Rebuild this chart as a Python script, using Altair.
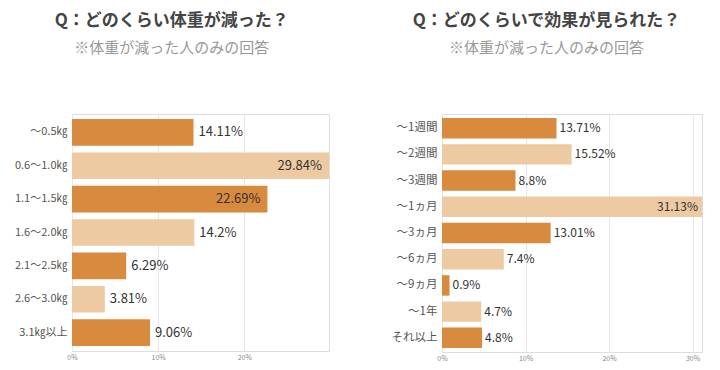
import altair as alt
import pandas as pd

FONT = "Noto Sans CJK JP"
DARK = "#D88A3F"
LIGHT = "#EDCAA1"

left_title = "Q：どのくらい体重が減った？"
right_title = "Q：どのくらいで効果が見られた？"
subtitle = "※体重が減った人のみの回答"

left_cats = ["～0.5㎏", "0.6～1.0㎏", "1.1～1.5㎏", "1.6～2.0㎏", "2.1～2.5㎏", "2.6～3.0㎏", "3.1㎏以上"]
left_vals = [14.11, 29.84, 22.69, 14.2, 6.29, 3.81, 9.06]
left_ticks = [0, 10, 20]

right_cats = ["～1週間", "～2週間", "～3週間", "～1ヵ月", "～3ヵ月", "～6ヵ月", "～9ヵ月", "～1年", "それ以上"]
right_vals = [13.71, 15.52, 8.8, 31.13, 13.01, 7.4, 0.9, 4.7, 4.8]
right_ticks = [0, 10, 20, 30]


def panel(cats, vals, title, ticks, w, h, pi, label_size, text_size, dx_out, dx_in):
    df = pd.DataFrame({
        "cat": cats,
        "v": vals,
        "shade": ["dark" if i % 2 == 0 else "light" for i in range(len(cats))],
    })
    y = alt.Y("cat:N", sort=cats,
              scale=alt.Scale(paddingInner=pi, paddingOuter=0.15),
              axis=alt.Axis(title=None, domain=False, ticks=False, grid=False,
                            labelPadding=5, labelFontSize=label_size,
                            labelColor="#555", labelFont=FONT, labelLimit=200))
    x = alt.X("v:Q",
              scale=alt.Scale(domain=[0, max(vals)], nice=False, zero=True),
              axis=alt.Axis(title=None, values=ticks, labelExpr="datum.value + '%'",
                            domain=False, ticks=False, grid=True, gridColor="#e6e6e6",
                            labelFontSize=7, labelColor="#888", labelPadding=2,
                            labelFlush=False, labelFont=FONT))
    base = alt.Chart(df)
    bars = base.mark_bar().encode(
        x=x, y=y,
        color=alt.Color("shade:N", scale=alt.Scale(domain=["dark", "light"], range=[DARK, LIGHT]), legend=None),
    )
    t_out = base.transform_filter("datum.v < 20").transform_calculate(
        lbl="datum.v + '%'"
    ).mark_text(align="left", baseline="middle", dx=dx_out, fontSize=text_size,
                color="#333", font=FONT).encode(x="v:Q", y=alt.Y("cat:N", sort=cats), text="lbl:N")
    t_in = base.transform_filter("datum.v >= 20").transform_calculate(
        lbl="datum.v + '%'"
    ).mark_text(align="right", baseline="middle", dx=-dx_in, fontSize=text_size,
                color="#333", font=FONT).encode(x="v:Q", y=alt.Y("cat:N", sort=cats), text="lbl:N")
    return alt.layer(bars, t_out, t_in).properties(
        width=w, height=h,
        title=alt.TitleParams(
            text=title, subtitle=subtitle, anchor="middle", frame="bounds",
            font=FONT, fontSize=17, fontWeight="bold", color="#444",
            subtitleFont=FONT, subtitleFontSize=15, subtitleColor="#999",
            subtitlePadding=11, offset=57,
        ),
    )


left = panel(left_cats, left_vals, left_title, left_ticks, 257, 237, 0.2, 11, 13, 5, 7)
right = panel(right_cats, right_vals, right_title, right_ticks, 260, 238, 0.22, 11.5, 12, 3, 4)

chart = alt.hconcat(left, right, spacing=60).properties(
    padding={"left": 5, "top": 3, "right": 0, "bottom": 0}
).configure_view(stroke=None).configure(font=FONT)

chart.save("out.html", embed_options={"renderer": "svg", "actions": False})
